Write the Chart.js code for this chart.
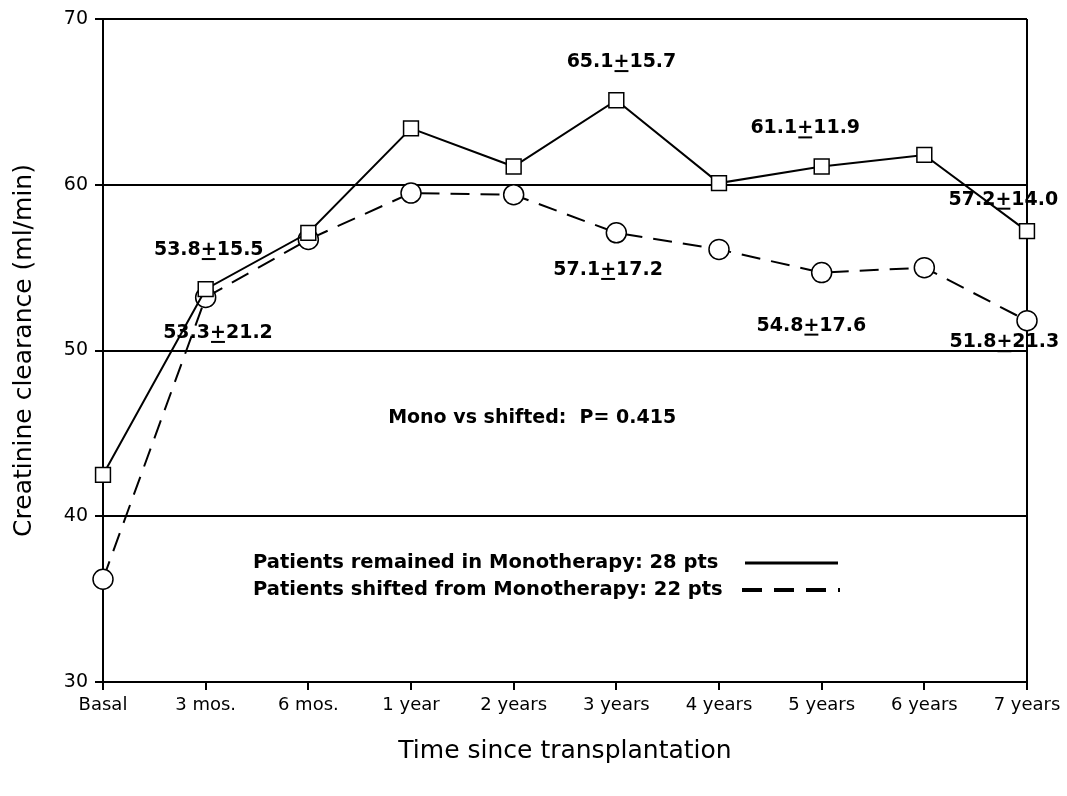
<!DOCTYPE html>
<html>
<head>
<meta charset="utf-8">
<script src="https://cdn.jsdelivr.net/npm/chart.js@4.4.0/dist/chart.umd.min.js"></script>
<style>
  html, body { margin: 0; padding: 0; background: #fff; }
  #wrap { width: 1067px; height: 796px; }
</style>
</head>
<body>
<div id="wrap"><canvas id="chart" width="1067" height="796"></canvas></div>
<script>
const categories = ['Basal', '3 mos.', '6 mos.', '1 year', '2 years', '3 years', '4 years', '5 years', '6 years', '7 years'];
const monoValues = [42.5, 53.7, 57.1, 63.4, 61.1, 65.1, 60.1, 61.1, 61.8, 57.2];
const shiftedValues = [36.2, 53.2, 56.7, 59.5, 59.4, 57.1, 56.1, 54.7, 55.0, 51.8];

// mean +/- sd notes, anchored at (category position, value)
const noteMeans = ['65.1', '61.1', '57.2', '53.8', '53.3', '57.1', '54.8', '51.8'];
const noteSds = ['15.7', '11.9', '14.0', '15.5', '21.2', '17.2', '17.6', '21.3'];
const noteX = [5.05, 6.84, 8.77, 1.03, 1.12, 4.92, 6.9, 8.78];
const noteY = [67.4, 63.4, 59.1, 56.06, 51.06, 54.86, 51.5, 50.5];

const pValueText = 'Mono vs shifted:  P= 0.415';
const legendLabels = ['Patients remained in Monotherapy: 28 pts', 'Patients shifted from Monotherapy: 22 pts'];

const FONT = "'DejaVu Sans', Verdana, sans-serif";

// draws the value notes, the p value and the line legend
const notesPlugin = {
  id: 'notes',
  afterDatasetsDraw(chart) {
    const { ctx, scales: { x, y } } = chart;
    ctx.save();
    ctx.fillStyle = '#000';
    ctx.strokeStyle = '#000';
    ctx.textBaseline = 'middle';
    ctx.textAlign = 'left';

    ctx.font = 'bold 19px ' + FONT;
    noteMeans.forEach((m, i) => {
      const cx = x.getPixelForValue(noteX[i]);
      const cy = y.getPixelForValue(noteY[i]);
      const wm = ctx.measureText(m).width;
      const wp = ctx.measureText('+').width;
      const ws = ctx.measureText(noteSds[i]).width;
      let px = cx - (wm + wp + ws) / 2;
      ctx.fillText(m, px, cy);
      px += wm;
      ctx.fillText('+', px, cy);
      ctx.fillRect(px + 1, cy + 8, wp - 2, 2);
      px += wp;
      ctx.fillText(noteSds[i], px, cy);
    });

    ctx.font = 'bold 19px ' + FONT;
    ctx.textAlign = 'center';
    ctx.fillText(pValueText, x.getPixelForValue(4.18), y.getPixelForValue(45.9));

    // legend
    ctx.font = 'bold 19.5px ' + FONT;
    ctx.textAlign = 'left';
    const lx = 253, ly = [563, 590];
    ctx.fillText(legendLabels[0], lx, ly[0]);
    ctx.fillText(legendLabels[1], lx, ly[1]);
    ctx.lineWidth = 3;
    ctx.beginPath();
    ctx.moveTo(745, ly[0]);
    ctx.lineTo(838, ly[0]);
    ctx.stroke();
    ctx.setLineDash([20, 12]);
    ctx.lineWidth = 4;
    ctx.beginPath();
    ctx.moveTo(742, ly[1]);
    ctx.lineTo(840, ly[1]);
    ctx.stroke();
    ctx.restore();
  }
};

new Chart(document.getElementById('chart'), {
  type: 'line',
  data: {
    labels: categories,
    datasets: [
      {
        label: 'Monotherapy',
        data: monoValues,
        borderColor: '#000',
        borderWidth: 2,
        pointStyle: 'rect',
        pointRadius: 10.5,
        pointBorderWidth: 1.5,
        pointBorderColor: '#000',
        pointBackgroundColor: '#fff',
        tension: 0
      },
      {
        label: 'Shifted',
        data: shiftedValues,
        borderColor: '#000',
        borderWidth: 2,
        borderDash: [19, 11],
        pointStyle: 'circle',
        pointRadius: 10,
        pointBorderWidth: 1.5,
        pointBorderColor: '#000',
        pointBackgroundColor: '#fff',
        tension: 0
      }
    ]
  },
  options: {
    responsive: false,
    animation: false,
    devicePixelRatio: 1,
    layout: { padding: { left: 0, right: 40, top: 19, bottom: 0 } },
    plugins: { legend: { display: false }, tooltip: { enabled: false } },
    scales: {
      x: {
        offset: false,
        grid: {
          color: (c) => (c.index === categories.length - 1 ? '#000' : 'rgba(0,0,0,0)'),
          tickColor: '#000',
          lineWidth: 2,
          tickLength: 8
        },
        border: { color: '#000', width: 2 },
        ticks: { color: '#000', font: { family: FONT, size: 18 }, padding: 5, maxRotation: 0, autoSkip: false },
        title: {
          display: true,
          text: 'Time since transplantation',
          color: '#000',
          font: { family: FONT, size: 25 },
          padding: { top: 0, bottom: 30 }
        },
        afterFit: (s) => { s.height = 114; }
      },
      y: {
        min: 30,
        max: 70,
        grid: { color: '#000', tickColor: '#000', lineWidth: 2, tickLength: 8 },
        border: { color: '#000', width: 2 },
        ticks: { stepSize: 10, color: '#000', font: { family: FONT, size: 19 }, padding: 7 },
        title: {
          display: true,
          text: 'Creatinine clearance (ml/min)',
          color: '#000',
          font: { family: FONT, size: 25 },
          padding: { top: 9, bottom: 0 }
        },
        afterFit: (s) => { s.width = 103; }
      }
    }
  },
  plugins: [notesPlugin]
});
</script>
</body>
</html>
